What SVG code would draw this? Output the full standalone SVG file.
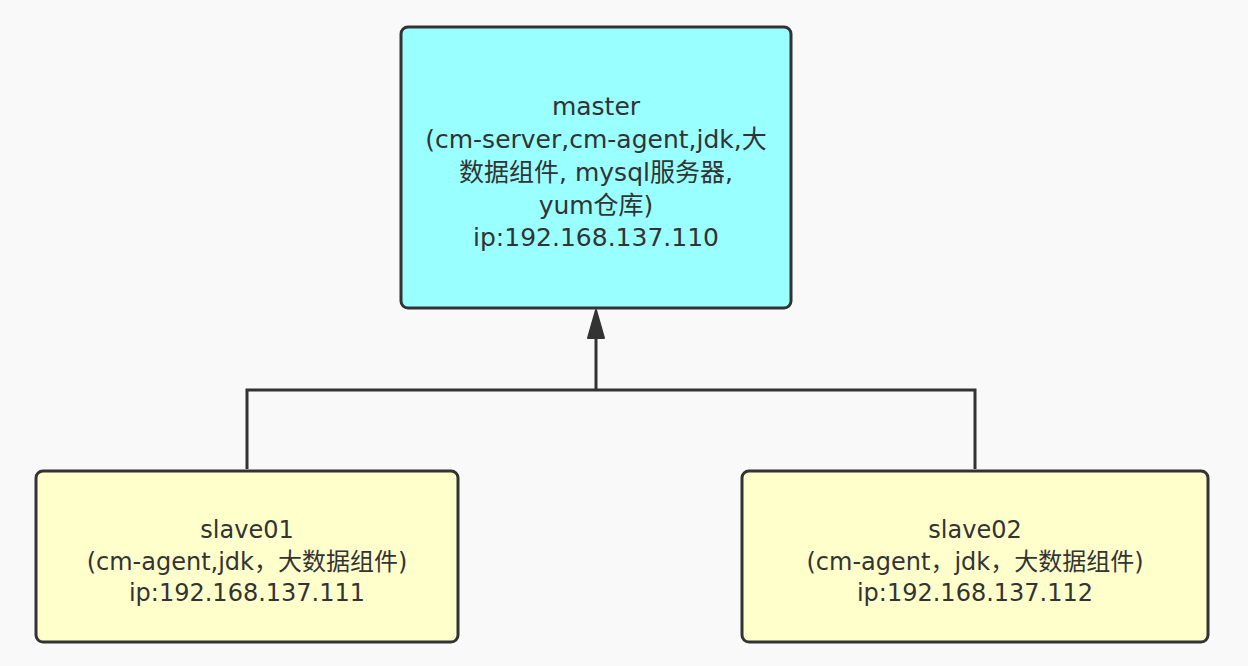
<svg xmlns="http://www.w3.org/2000/svg" width="1248" height="666" viewBox="0 0 1248 666">
<style>
.box{stroke:#333;stroke-width:3}
.t{font-family:"DejaVu Sans","Noto Sans CJK SC",sans-serif;font-size:25px;fill:#333;text-anchor:middle}
.s{font-size:24px}
.c{fill:none;stroke:#333;stroke-width:3}
</style>
<rect width="1248" height="666" fill="#f9f9f9"/>
<g id="connectors">
<path class="c" d="M247 469 V390 H975 V469"/>
<path class="c" d="M596 390 V335"/>
<polygon points="596,310 588,338 604,338" fill="#333" stroke="#333" stroke-width="2" stroke-linejoin="round"/>
</g>
<g id="master">
<rect class="box" x="401" y="27" width="390" height="281" rx="7" fill="#99ffff"/>
<text class="t" x="596" y="115">master</text>
<text class="t" x="596" y="148">(cm-server,cm-agent,jdk,大</text>
<text class="t" x="596" y="181">数据组件, mysql服务器,</text>
<text class="t" x="596" y="214">yum仓库)</text>
<text class="t" x="596" y="246">ip:192.168.137.110</text>
</g>
<g id="slave01">
<rect class="box" x="36" y="471" width="422" height="171" rx="7" fill="#ffffcc"/>
<text class="t s" x="247" y="538">slave01</text>
<text class="t s" x="247" y="570">(cm-agent,jdk，大数据组件)</text>
<text class="t s" x="247" y="601">ip:192.168.137.111</text>
</g>
<g id="slave02">
<rect class="box" x="742" y="471" width="466" height="171" rx="7" fill="#ffffcc"/>
<text class="t s" x="975" y="538">slave02</text>
<text class="t s" x="975" y="570">(cm-agent，jdk，大数据组件)</text>
<text class="t s" x="975" y="601">ip:192.168.137.112</text>
</g>
</svg>
